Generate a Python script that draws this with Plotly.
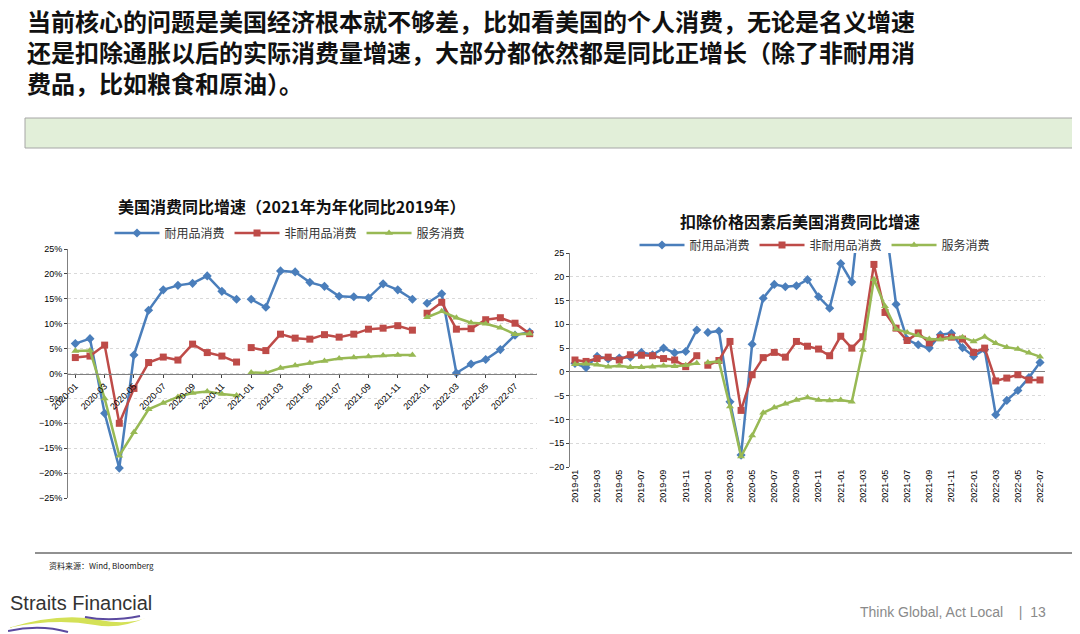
import plotly.graph_objects as go

# ---------- data ----------
left_months = [f"{y}-{m:02d}" for y in (2020, 2021, 2022) for m in range(1, 13)][:32]
left_durable = [6, 7, -8, -19, 3.7, 12.7, 16.8, 17.7, 18.1, 19.6, 16.5, 14.9,
                14.9, 13.3, 20.6, 20.4, 18.3, 17.5, 15.5, 15.4, 15.2, 18, 16.8, 14.9,
                14.1, 16, 0.1, 1.9, 2.8, 4.8, 7.7, 8.3]
left_nondurable = [3.2, 3.5, 5.7, -10, -3, 2.2, 3.3, 2.7, 5.9, 4.2, 3.5, 2.3,
                   5.2, 4.6, 7.9, 7.1, 6.9, 7.8, 7.3, 7.9, 8.9, 9.1, 9.6, 8.7,
                   12.1, 14.3, 8.9, 9, 10.8, 11.2, 10.1, 8]
left_services = [4.5, 4.6, -5, -16.5, -11.8, -7.2, -5.9, -4.7, -3.9, -3.6, -4.1, -4.4,
                 0.2, 0.1, 1.1, 1.6, 2.1, 2.5, 3, 3.2, 3.4, 3.6, 3.7, 3.7,
                 11.3, 12.5, 11.2, 10.2, 10, 9.2, 7.9, 8]
left_segments = [(0, 12), (12, 24), (24, 32)]

right_months = [f"{y}-{m:02d}" for y in (2019, 2020, 2021, 2022) for m in range(1, 13)][:43]
right_durable = [1.8, 0.9, 3.3, 2.7, 2.9, 3.1, 4.1, 3.6, 5, 4, 4.3, 8.8,
                 8.3, 8.6, -6.3, -17.5, 5.8, 15.5, 18.4, 17.9, 18.1, 19.4, 15.8, 13.4,
                 22.8, 18.9, 40, 50, 32, 14.2, 6.8, 5.7, 5, 7.8, 8.1, 5.1,
                 3.3, 4.7, -9, -6, -3.9, -1.2, 2]
right_nondurable = [2.5, 2.2, 2.8, 3.1, 2.5, 3.6, 3.5, 3.4, 2.8, 2.5, 1.1, 3.4,
                    1.4, 2.4, 6.4, -8.1, -0.6, 3, 4.1, 3.1, 6.4, 5.4, 4.8, 3.4,
                    7.5, 5, 7.4, 22.6, 12.5, 9.2, 6.6, 8.2, 6.1, 7.2, 7.3, 6.9,
                    4.1, 5, -1.9, -1.3, -0.6, -1.7, -1.7]
right_services = [1.6, 1.7, 1.5, 1.1, 1.3, 1, 1, 1.1, 1.3, 1.2, 1.4, 1.8,
                  2, 2.2, -7.3, -17.8, -13.4, -8.6, -7.5, -6.7, -5.9, -5.4, -5.9, -6,
                  -5.9, -6.3, 4.6, 19.5, 13.8, 9, 8.3, 7.7, 6.9, 6.8, 7.2, 7.3,
                  6.4, 7.4, 6, 5.2, 4.8, 4, 3.2]
right_segments = [(0, 12), (12, 43)]

series_names = ["耐用品消费", "非耐用品消费", "服务消费"]
colors = ["#4a7ebb", "#be4b48", "#98b954"]
symbols = ["diamond", "square", "triangle-up"]

OFF = 8
W, H = 1080 - OFF, 634 - OFF
def X(px): return (px - OFF) / W
def Y(py): return 1 - (py - OFF) / H

fig = go.Figure()
CJK = "Noto Sans CJK SC"

def add_series(xs, ys_list, segs, xa, ya, leg):
    for name, ys, c, s in zip(series_names, ys_list, colors, symbols):
        for k, (a, b) in enumerate(segs):
            fig.add_trace(go.Scatter(
                x=xs[a:b], y=ys[a:b], mode="lines+markers", name=name,
                line=dict(color=c, width=2.5), marker=dict(symbol=s, size=7, color=c),
                xaxis=xa, yaxis=ya, legend=leg, legendgroup=leg + name,
                showlegend=(k == 0), cliponaxis=True))

add_series(left_months, [left_durable, left_nondurable, left_services], left_segments, "x", "y", "legend")
add_series(right_months, [right_durable, right_nondurable, right_services], right_segments, "x2", "y2", "legend2")

grid = dict(showgrid=True, gridcolor="#d9d9d9", griddash="dot", gridwidth=1)
tickf = dict(family="Liberation Sans", size=9, color="#000")

ly0, ly1 = Y(498), Y(249)
fig.update_layout(
    width=W, height=H, margin=dict(l=0, r=0, t=0, b=0, autoexpand=False),
    paper_bgcolor="white", plot_bgcolor="white", showlegend=True,
    xaxis=dict(domain=[X(68), X(537)], type="category", range=[-0.5, 31.5],
               tickvals=left_months[::2], tickangle=-45, tickfont=tickf, automargin=False,
               anchor="free", position=(ly0 + ly1) / 2,
               showline=True, linecolor="#808080", ticks="outside", ticklen=3, showgrid=False),
    yaxis=dict(domain=[ly0, ly1], range=[-25, 25], dtick=5, automargin=False,
               ticksuffix="%", tickfont=tickf, showline=True, linecolor="#808080",
               zeroline=False, anchor="x", ticks="outside", ticklen=3, **grid),
    xaxis2=dict(domain=[X(570), X(1045)], type="category", range=[-0.45, 42.45],
                tickvals=right_months[::2], tickangle=-90, tickfont=tickf, automargin=False,
                anchor="y2", showline=False, ticks="", showgrid=False),
    yaxis2=dict(domain=[Y(467), Y(253)], range=[-20, 25], dtick=5, tickfont=tickf, automargin=False,
                showline=True, linecolor="#808080", zeroline=True, zerolinecolor="#808080",
                zerolinewidth=1, anchor="x2", ticks="outside", ticklen=3, **grid),
    legend=dict(orientation="h", x=X(290), y=Y(233), xanchor="center", yanchor="middle",
                font=dict(family=CJK, size=12, color="#333"), bgcolor="rgba(0,0,0,0)",
                itemwidth=45),
    legend2=dict(orientation="h", x=X(815), y=Y(245), xanchor="center", yanchor="middle",
                 font=dict(family=CJK, size=12, color="#333"), bgcolor="rgba(0,0,0,0)",
                 itemwidth=45),
)

header = ["当前核心的问题是美国经济根本就不够差，比如看美国的个人消费，无论是名义增速",
          "还是扣除通胀以后的实际消费量增速，大部分都依然都是同比正增长（除了非耐用消",
          "费品，比如粮食和原油）。"]
fig.add_annotation(text="<b>" + "<br>".join(header) + "</b>", xref="paper", yref="paper",
                   x=X(25), y=Y(1), xanchor="left", yanchor="top", align="left",
                   showarrow=False, font=dict(family=CJK, size=24, color="#111"))

fig.add_shape(type="rect", xref="paper", yref="paper", x0=X(25), x1=X(1075),
              y0=Y(148), y1=Y(118), fillcolor="#e2efd9",
              line=dict(color="#a6a6a6", width=1))

fig.add_annotation(text="<b>美国消费同比增速（2021年为年化同比2019年）</b>", xref="paper", yref="paper",
                   x=X(292), y=Y(206), xanchor="center", yanchor="middle", showarrow=False,
                   font=dict(family=CJK, size=16, color="#111"))
fig.add_annotation(text="<b>扣除价格因素后美国消费同比增速</b>", xref="paper", yref="paper",
                   x=X(800), y=Y(221), xanchor="center", yanchor="middle", showarrow=False,
                   font=dict(family=CJK, size=16, color="#111"))

fig.add_shape(type="line", xref="paper", yref="paper", x0=X(35), x1=X(1075),
              y0=Y(553), y1=Y(553), line=dict(color="#222", width=1))
fig.add_annotation(text="资料来源：Wind, Bloomberg", xref="paper", yref="paper",
                   x=X(47), y=Y(565), xanchor="left", yanchor="middle", showarrow=False,
                   font=dict(family=CJK, size=8, color="#222"))

fig.add_annotation(text="Straits Financial", xref="paper", yref="paper", x=X(8),
                   y=Y(603), xanchor="left", yanchor="middle", showarrow=False,
                   font=dict(family="Liberation Sans Narrow, Liberation Sans", size=20, color="#333"))
fig.add_shape(type="path", xref="paper", yref="paper",
              path=f"M {X(8)},{Y(628)} Q {X(60)},{Y(612)} {X(100)},{Y(620)} Q {X(130)},{Y(626)} {X(150)},{Y(616)} "
                   f"Q {X(120)},{Y(630)} {X(95)},{Y(625)} Q {X(55)},{Y(618)} {X(8)},{Y(628)} Z",
              fillcolor="#d4e157", line=dict(width=0))
fig.add_shape(type="path", xref="paper", yref="paper",
              path=f"M {X(8)},{Y(631)} Q {X(40)},{Y(624)} {X(68)},{Y(632)}",
              line=dict(color="#5b4aa0", width=2))
fig.add_shape(type="path", xref="paper", yref="paper",
              path=f"M {X(85)},{Y(617)} Q {X(110)},{Y(622)} {X(140)},{Y(616)}",
              line=dict(color="#5b4aa0", width=2))

fig.add_annotation(text="Think Global, Act Local    |  13", xref="paper", yref="paper",
                   x=X(1048), y=Y(612), xanchor="right", yanchor="middle", showarrow=False,
                   font=dict(family="Liberation Sans Narrow, Liberation Sans", size=14, color="#8a8a8a"))

fig.write_html("out.html")
